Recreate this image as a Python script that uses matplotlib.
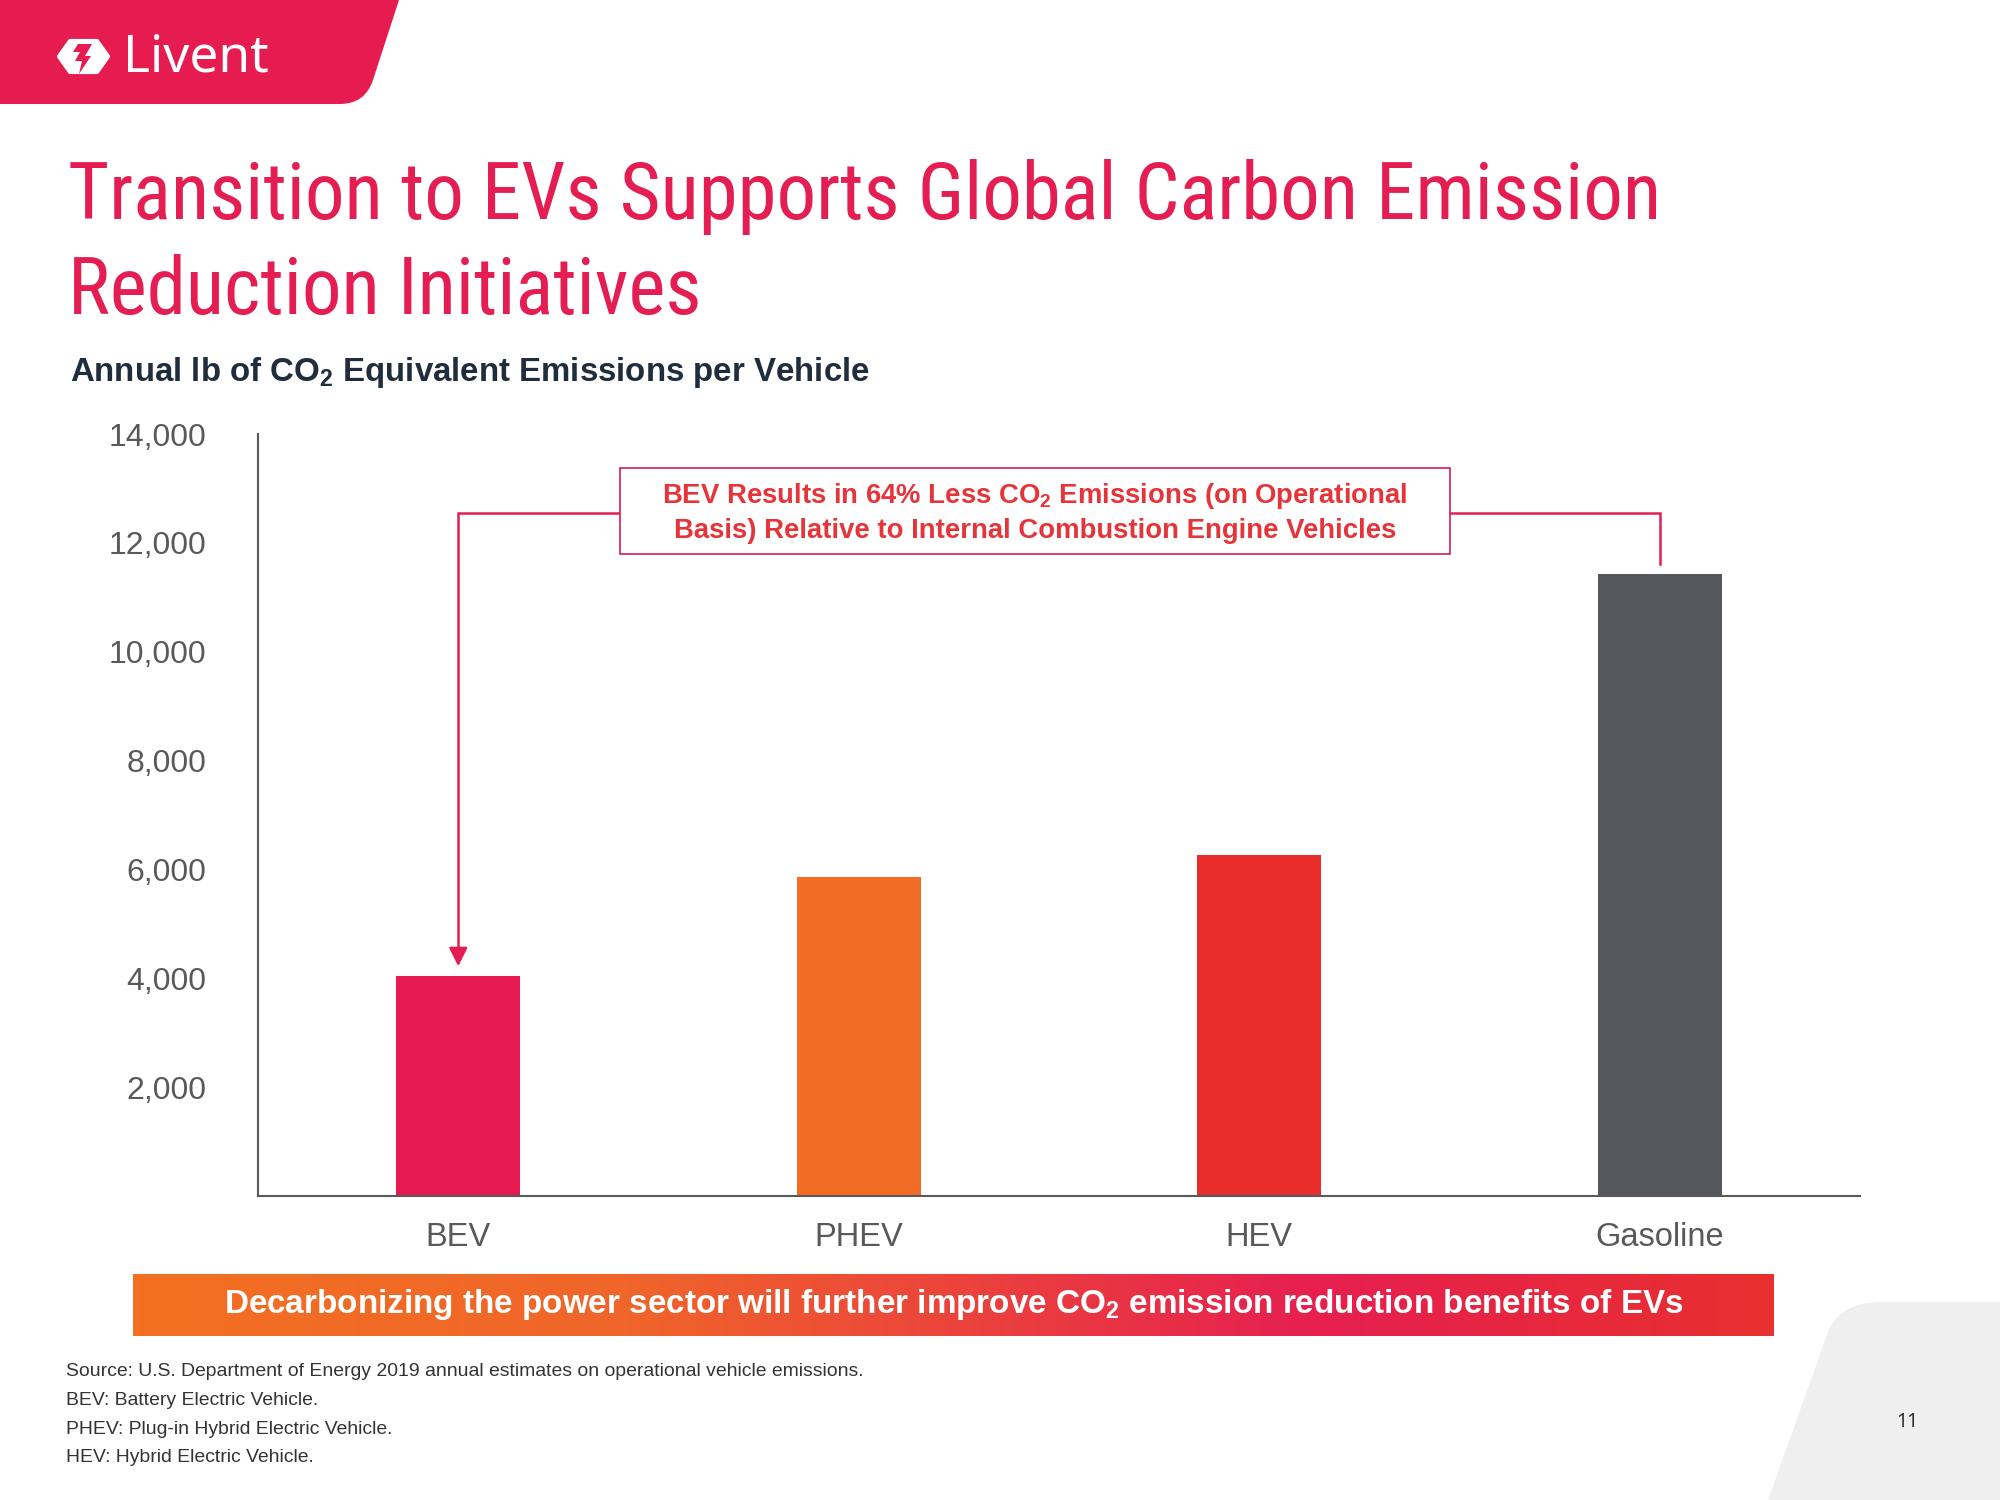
import matplotlib
matplotlib.use('Agg')
import numpy as np
import matplotlib.pyplot as plt
from matplotlib import font_manager as fm
from matplotlib.path import Path
from matplotlib.patches import PathPatch, Polygon, Rectangle
from matplotlib.colors import LinearSegmentedColormap

# data
categories = ['BEV', 'PHEV', 'HEV', 'Gasoline']
emissions = [4051, 5860, 6258, 11435]   # annual lb CO2e per vehicle
y_ticks = [2000, 4000, 6000, 8000, 10000, 12000, 14000]

bar_colors = ['#E61A50', '#F26C25', '#E82D2B', '#54575B']
CRIMSON = '#E41E52'
GREY_TXT = '#595959'

plt.rcParams['font.family'] = ['Liberation Sans', 'DejaVu Sans']
plt.rcParams['mathtext.fontset'] = 'custom'
plt.rcParams['mathtext.rm'] = 'Liberation Sans'
plt.rcParams['mathtext.bf'] = 'Liberation Sans:bold'
plt.rcParams['mathtext.it'] = 'Liberation Sans:italic'


def find_narrow_font():
    # the slide title uses a condensed face; take one if the box has it
    prefs = ['liberationsansnarrow-regular', 'liberationsansnarrow', 'robotocondensed-regular',
             'robotocondensed', 'opensans_condensed', 'opensanscondensed', 'dejavusanscondensed']
    cands = []
    for f in fm.fontManager.ttflist:
        fn = f.fname.lower().replace(' ', '').replace('-', '')
        base = fn.rsplit('/', 1)[-1]
        if ('narrow' in base or 'condensed' in base) and not any(
                k in base for k in ['bold', 'italic', 'oblique', 'light', 'thin', 'black']):
            cands.append((base, f.fname))
    for p in prefs:
        p = p.replace('-', '')
        for base, path in cands:
            if base.startswith(p):
                return fm.FontProperties(fname=path)
    if cands:
        return fm.FontProperties(fname=cands[0][1])
    return fm.FontProperties(family='Liberation Sans')


fig = plt.figure(figsize=(20, 15), dpi=100)
renderer = fig.canvas.get_renderer()


def fit_width(t, target_px):
    w = t.get_window_extent(renderer).width
    t.set_fontsize(t.get_fontsize() * target_px / w)
    return t.get_fontsize()


# --- background layer in pixel coordinates ---
bg = fig.add_axes([0, 0, 1, 1], zorder=0)
bg.set_xlim(0, 2000)
bg.set_ylim(1500, 0)
bg.axis('off')

# logo band top-left
band = Path([(0, 0), (399, 0), (373, 80), (365, 104), (340, 104), (0, 104), (0, 0)],
            [Path.MOVETO, Path.LINETO, Path.LINETO, Path.CURVE3, Path.CURVE3,
             Path.LINETO, Path.CLOSEPOLY])
bg.add_patch(PathPatch(band, facecolor='#E61B4F', edgecolor='none'))

# logo icon (rounded hexagon with bolt)
hexa = [(59, 56.5), (70, 41), (97, 41), (108, 56.5), (97, 72), (70, 72)]
bg.add_patch(Polygon(hexa, closed=True, facecolor='white', edgecolor='white',
                     lw=3, joinstyle='round'))
bolt = [(78, 44), (92, 44), (85, 56), (91, 56), (79, 74), (82, 61), (75, 61), (80, 52), (73, 52)]
bg.add_patch(Polygon(bolt, closed=True, facecolor='#E61B4F', edgecolor='none'))
bg.text(123, 72, 'Livent', color='white', fontsize=37, family=['Noto Sans', 'DejaVu Sans'],
        va='baseline', ha='left')

# grey corner shape bottom-right
corner = Path([(1768, 1500), (1828, 1332), (1840, 1302), (1882, 1302), (2000, 1302),
               (2000, 1500), (1768, 1500)],
              [Path.MOVETO, Path.LINETO, Path.CURVE3, Path.CURVE3, Path.LINETO,
               Path.LINETO, Path.CLOSEPOLY])
bg.add_patch(PathPatch(corner, facecolor='#EFEFEF', edgecolor='none'))
bg.text(1907, 1422, '11', ha='center', va='center', fontsize=14, color='#2B2F33',
        family=['Noto Sans', 'DejaVu Sans'])

# title
title_fp = find_narrow_font()
t1 = bg.text(68, 219, 'Transition to EVs Supports Global Carbon Emission', color=CRIMSON,
             fontproperties=title_fp, fontsize=60, va='baseline')
tsize = fit_width(t1, 1594)
bg.text(68, 314, 'Reduction Initiatives', color=CRIMSON,
        fontproperties=title_fp, fontsize=tsize, va='baseline')

sub = bg.text(70, 372, r'Annual lb of CO$_\mathbf{2}$ Equivalent Emissions per Vehicle',
              color='#1F2D3D', fontsize=22.5, fontweight='bold', va='center')
fit_width(sub, 800)

# footnotes
notes = ['Source: U.S. Department of Energy 2019 annual estimates on operational vehicle emissions.',
         'BEV: Battery Electric Vehicle.',
         'PHEV: Plug-in Hybrid Electric Vehicle.',
         'HEV: Hybrid Electric Vehicle.']
note_texts = [bg.text(66, 1372 + i * 28.5, n, fontsize=13, color='#333333', va='center')
              for i, n in enumerate(notes)]
nsize = fit_width(note_texts[0], 796)
for t in note_texts[1:]:
    t.set_fontsize(nsize)

# --- chart ---
ax = fig.add_axes([258 / 2000, 1 - 1196 / 1500, (1860 - 258) / 2000, (1196 - 434) / 1500], zorder=2)
ax.set_facecolor('none')
x = np.arange(len(categories))
ax.bar(x, emissions, width=0.31, color=bar_colors, zorder=2)
ax.set_xlim(-0.5, 3.5)
ax.set_ylim(0, 14000)
ax.set_yticks(y_ticks)
ax.set_yticklabels([f'{v:,}' for v in y_ticks])
ax.set_xticks(x)
ax.set_xticklabels(categories)
ax.tick_params(axis='y', length=0, pad=37, labelsize=23, labelcolor=GREY_TXT)
ax.tick_params(axis='x', length=0, pad=19, labelsize=23.5, labelcolor=GREY_TXT)
for s in ['top', 'right']:
    ax.spines[s].set_visible(False)
for s in ['left', 'bottom']:
    ax.spines[s].set_color(GREY_TXT)
    ax.spines[s].set_linewidth(1.5)

# callout box + connectors
line_y = 12550
box_l, box_r = 0.404, 2.476
ax.add_patch(Rectangle((box_l, 11795), box_r - box_l, 13375 - 11795, facecolor='white',
                       edgecolor='#D81B5A', lw=1.2, zorder=3))
note = ax.text((box_l + box_r) / 2, line_y,
               'BEV Results in 64% Less CO$_\\mathbf{2}$ Emissions (on Operational\n'
               'Basis) Relative to Internal Combustion Engine Vehicles',
               ha='center', va='center', fontsize=19.5, fontweight='bold', color='#E5343A',
               linespacing=1.35, zorder=4)
fit_width(note, 748)
ax.plot([box_l, x[0], x[0]], [line_y, line_y, emissions[0] + 400], color=CRIMSON, lw=1.8,
        solid_joinstyle='miter', zorder=2)
ax.annotate('', xy=(x[0], emissions[0] + 170), xytext=(x[0], emissions[0] + 450),
            arrowprops=dict(arrowstyle='-|>', color=CRIMSON, lw=1.8, mutation_scale=28,
                            shrinkA=0, shrinkB=0))
ax.plot([box_r, x[3], x[3]], [line_y, line_y, emissions[3] + 170], color=CRIMSON, lw=1.8,
        solid_joinstyle='miter', zorder=2)

# gradient banner
bax = fig.add_axes([133 / 2000, 1 - 1336 / 1500, (1774 - 133) / 2000, 62 / 1500], zorder=1)
grad_cmap = LinearSegmentedColormap.from_list(
    'banner', [(0, '#F37021'), (0.3, '#F0652A'), (0.72, '#E61F50'), (1, '#E8302E')])
bax.imshow(np.linspace(0, 1, 512)[None, :], cmap=grad_cmap, aspect='auto',
           extent=(0, 1, 0, 1))
bax.set_xlim(0, 1)
bax.set_ylim(0, 1)
bax.axis('off')
ban = bax.text(0.5, 0.5, r'Decarbonizing the power sector will further improve CO$_\mathbf{2}$ '
               'emission reduction benefits of EVs', ha='center', va='center', color='white',
               fontsize=22, fontweight='bold')
fit_width(ban, 1459)

fig.savefig('out.png', dpi=100)
